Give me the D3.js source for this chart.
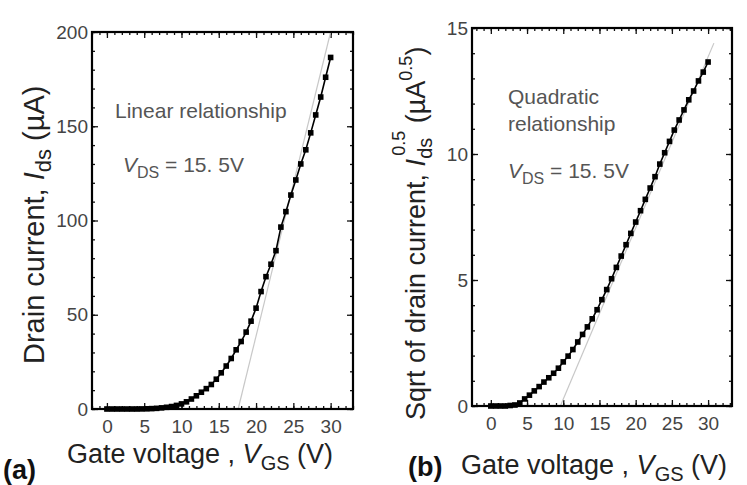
<!DOCTYPE html>
<html>
<head>
<meta charset="utf-8">
<script src="https://cdn.jsdelivr.net/npm/d3@7"></script>
<style>
  body { margin: 0; background: #fff; }
  svg { display: block; font-family: "Liberation Sans", Arial, sans-serif; }
</style>
</head>
<body>
<div id="app"></div>
<script>
// gate voltage sweep (V)
const gateVoltage = [0, 0.67, 1.33, 2, 2.67, 3.33, 4, 4.67, 5.33, 6, 6.67, 7.33, 8, 8.67, 9.33, 10,
    10.67, 11.33, 12, 12.67, 13.33, 14, 14.67, 15.33, 16, 16.67, 17.33, 18, 18.67, 19.33, 20,
    20.67, 21.33, 22, 22.67, 23.33, 24, 24.67, 25.33, 26, 26.67, 27.33, 28, 28.67, 29.33, 30];
// (a) drain current (uA)
const drainCurrent = [0, 0, 0, 0, 0, 0, 0, 0.05, 0.1, 0.2, 0.35, 0.6, 0.9, 1.3, 1.9, 2.7,
    3.8, 5.3, 7.0, 8.9, 10.8, 13.0, 15.8, 19.2, 22.8, 26.8, 31.4, 35.8, 40.8, 46.6, 53.5,
    62.3, 70.2, 76.8, 84, 96.5, 104.7, 113.5, 121.5, 130, 137.5, 146.5, 156, 165.5, 176, 186.5];
// (b) sqrt of drain current (uA^0.5)
const sqrtCurrent = [0, 0, 0, 0, 0.02, 0.04, 0.12, 0.28, 0.43, 0.6, 0.77, 0.95, 1.12, 1.3, 1.5, 1.75,
    1.98, 2.24, 2.54, 2.84, 3.14, 3.46, 3.82, 4.22, 4.62, 5.05, 5.5, 5.95, 6.4, 6.85, 7.3,
    7.75, 8.2, 8.65, 9.1, 9.6, 10.05, 10.5, 10.95, 11.35, 11.75, 12.15, 12.5, 12.9, 13.25, 13.65];
// extrapolated fit lines (end points)
const fitLinearV = [17.6, 30];
const fitLinearI = [0, 200];
const fitQuadV = [9.6, 30.8];
const fitQuadS = [0, 14.4];

const xTicks = [0, 5, 10, 15, 20, 25, 30];
const yTicksA = [0, 50, 100, 150, 200];
const yTicksB = [0, 5, 10, 15];

const width = 747;
const height = 485;
const font = '"Liberation Sans", Arial, sans-serif';

const svg = d3.select('#app').append('svg')
    .attr('width', width)
    .attr('height', height);

const drawPanel = opts => {
    const x = d3.scaleLinear().domain(opts.xDomain).range([opts.left, opts.right]);
    const y = d3.scaleLinear().domain(opts.yDomain).range([opts.bottom, opts.top]);
    const g = svg.append('g');

    const minorX = d3.range(Math.ceil(opts.xDomain[0]), opts.xDomain[1] + 0.01, 1);
    const minorY = d3.range(opts.yDomain[0], opts.yDomain[1] + 0.01, opts.yMinor);

    const addAxis = (axis, transform) => {
        const a = g.append('g').attr('transform', transform).call(axis);
        a.select('.domain').remove();
        a.selectAll('line').attr('stroke', '#111').attr('stroke-width', 1.3);
        a.selectAll('text')
            .attr('fill', '#444')
            .style('font-size', '19px')
            .style('font-family', font);
        return a;
    };

    // minor ticks, all sides, pointing in
    addAxis(d3.axisBottom(x).tickValues(minorX).tickSize(-3).tickFormat(''), `translate(0,${opts.bottom})`);
    addAxis(d3.axisTop(x).tickValues(minorX).tickSize(-3).tickFormat(''), `translate(0,${opts.top})`);
    addAxis(d3.axisLeft(y).tickValues(minorY).tickSize(-3).tickFormat(''), `translate(${opts.left},0)`);
    addAxis(d3.axisRight(y).tickValues(minorY).tickSize(-3).tickFormat(''), `translate(${opts.right},0)`);
    // major ticks
    addAxis(d3.axisBottom(x).tickValues(xTicks).tickSize(-6).tickPadding(opts.xPad), `translate(0,${opts.bottom})`);
    addAxis(d3.axisTop(x).tickValues(xTicks).tickSize(-6).tickFormat(''), `translate(0,${opts.top})`);
    addAxis(d3.axisLeft(y).tickValues(opts.yTicks).tickSize(-6).tickPadding(4), `translate(${opts.left},0)`);
    addAxis(d3.axisRight(y).tickValues(opts.yTicks).tickSize(-6).tickFormat(''), `translate(${opts.right},0)`);

    // fit line
    g.append('line')
        .attr('x1', x(opts.fitX[0])).attr('y1', y(opts.fitY[0]))
        .attr('x2', x(opts.fitX[1])).attr('y2', y(opts.fitY[1]))
        .attr('stroke', '#c8c8c8')
        .attr('stroke-width', 1.2);

    const pts = opts.xs.map((v, i) => [v, opts.ys[i]]);
    g.append('path')
        .datum(pts)
        .attr('fill', 'none')
        .attr('stroke', '#000')
        .attr('stroke-width', 1.6)
        .attr('d', d3.line().x(d => x(d[0])).y(d => y(d[1])));

    g.selectAll('rect.pt')
        .data(pts)
        .enter().append('rect')
        .attr('class', 'pt')
        .attr('x', d => x(d[0]) - 2.8)
        .attr('y', d => y(d[1]) - 2.8)
        .attr('width', 5.6)
        .attr('height', 5.6)
        .attr('fill', '#000');

    // frame
    g.append('rect')
        .attr('x', opts.left).attr('y', opts.top)
        .attr('width', opts.right - opts.left)
        .attr('height', opts.bottom - opts.top)
        .attr('fill', 'none')
        .attr('stroke', '#000')
        .attr('stroke-width', 2.2);

    return { x, y, g };
};

drawPanel({
    left: 92, right: 353, top: 32, bottom: 409,
    xDomain: [-2, 33], yDomain: [0, 200], yMinor: 10,
    yTicks: yTicksA, xPad: 11,
    xs: gateVoltage, ys: drainCurrent,
    fitX: fitLinearV, fitY: fitLinearI,
});

drawPanel({
    left: 472, right: 732, top: 28, bottom: 406,
    xDomain: [-2.6, 33.3], yDomain: [0, 15], yMinor: 1,
    yTicks: yTicksB, xPad: 11,
    xs: gateVoltage, ys: sqrtCurrent,
    fitX: fitQuadV, fitY: fitQuadS,
});

// annotations
const note = (xPos, yPos, str) => svg.append('text')
    .attr('x', xPos).attr('y', yPos)
    .attr('fill', '#555')
    .style('font-size', '21px')
    .text(str);

const addVds = (xPos, yPos) => {
    const t = svg.append('text')
        .attr('x', xPos).attr('y', yPos)
        .attr('fill', '#555')
        .style('font-size', '21px');
    t.append('tspan').style('font-style', 'italic').text('V');
    t.append('tspan').attr('dy', 6).style('font-size', '16px').text('DS');
    t.append('tspan').attr('dy', -6).text(' = 15. 5V');
};

note(115, 118, 'Linear relationship');
addVds(123, 172);

note(508, 104, 'Quadratic');
note(508, 131, 'relationship');
addVds(508, 178);

// x titles
const addXTitle = (xPos, yPos) => {
    const t = svg.append('text')
        .attr('x', xPos).attr('y', yPos)
        .attr('fill', '#222')
        .style('font-size', '27px');
    t.append('tspan').text('Gate voltage , ');
    t.append('tspan').style('font-style', 'italic').text('V');
    t.append('tspan').attr('dy', 7).style('font-size', '20px').text('GS');
    t.append('tspan').attr('dy', -7).text(' (V)');
};
addXTitle(67, 463);
addXTitle(461, 474);

const panelTag = (xPos, yPos, str) => svg.append('text')
    .attr('x', xPos).attr('y', yPos)
    .style('font-size', '27px').style('font-weight', 'bold')
    .attr('fill', '#111')
    .text(str);
panelTag(3, 479, '(a)');
panelTag(408, 476, '(b)');

// y titles (read bottom to top)
const yA = svg.append('text')
    .attr('transform', 'translate(44,364) rotate(-90)')
    .attr('fill', '#222')
    .style('font-size', '29px');
yA.append('tspan').text('Drain current, ');
yA.append('tspan').style('font-style', 'italic').text('I');
yA.append('tspan').attr('dy', 7).style('font-size', '22px').text('ds');
yA.append('tspan').attr('dy', -7).text(' (µA)');

const yB = svg.append('text')
    .attr('transform', 'translate(425,420) rotate(-90)')
    .attr('fill', '#222')
    .style('font-size', '27px');
yB.append('tspan').text('Sqrt of drain current, ');
yB.append('tspan').style('font-style', 'italic').text('I');
yB.append('tspan').attr('dy', 7).style('font-size', '20px').text('ds');
yB.append('tspan').attr('dy', -27).attr('dx', -18).style('font-size', '18px').text('0.5');
yB.append('tspan').attr('dy', 20).text(' (µA');
yB.append('tspan').attr('dy', -13).style('font-size', '18px').text('0.5');
yB.append('tspan').attr('dy', 13).text(')');
</script>
</body>
</html>
